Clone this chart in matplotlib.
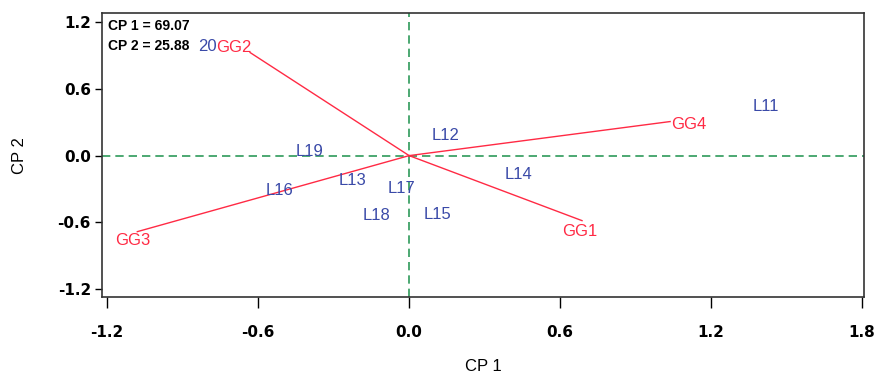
import numpy as np
import matplotlib
matplotlib.use('Agg')
import matplotlib.pyplot as plt

# vectores de los grupos (extremos de las lineas)
grupos = ['GG1', 'GG2', 'GG3', 'GG4']
grupo_x = [0.687, -0.632, -1.08, 1.037]
grupo_y = [-0.584, 0.926, -0.683, 0.306]
# posicion de las etiquetas de los grupos
grupo_lab_x = [0.679, -0.697, -1.097, 1.11]
grupo_lab_y = [-0.683, 0.971, -0.764, 0.279]

# lineas (puntos azules)
lineas = ['20', 'L11', 'L12', 'L13', 'L14', 'L15', 'L16', 'L17', 'L18', 'L19']
linea_x = [-0.80, 1.418, 0.143, -0.226, 0.433, 0.111, -0.516, -0.032, -0.131, -0.397]
linea_y = [0.98, 0.44, 0.18, -0.225, -0.171, -0.53, -0.315, -0.297, -0.539, 0.036]

xticks = [-1.2, -0.6, 0.0, 0.6, 1.2, 1.8]
yticks = [-1.2, -0.6, 0.0, 0.6, 1.2]
varianza = ['CP 1 = 69.07', 'CP 2 = 25.88']

rojo = '#ff2a44'
azul = '#3a4aa8'
verde = '#2e9a5a'
fuente = 'Liberation Sans'

fig = plt.figure(figsize=(8.8, 3.75), dpi=100)
ax = fig.add_axes([0.116, 0.208, 0.866, 0.757])

ax.axhline(0, color=verde, lw=1.2, ls=(0, (5, 3)))
ax.axvline(0, color=verde, lw=1.2, ls=(0, (5, 3)))

for g, x, y, lx, ly in zip(grupos, grupo_x, grupo_y, grupo_lab_x, grupo_lab_y):
    ax.plot([0, x], [0, y], color=rojo, lw=1)
    ax.text(lx, ly, g, color=rojo, fontsize=12, family=fuente,
            ha='center', va='center')

for l, x, y in zip(lineas, linea_x, linea_y):
    ax.text(x, y, l, color=azul, fontsize=12, family=fuente,
            ha='center', va='center')

ax.text(0.008, 0.955, varianza[0], transform=ax.transAxes, fontsize=10,
        family=fuente, fontweight='bold', va='center', ha='left')
ax.text(0.008, 0.885, varianza[1], transform=ax.transAxes, fontsize=10,
        family=fuente, fontweight='bold', va='center', ha='left')

ax.set_xlim(-1.22, 1.808)
ax.set_ylim(-1.27, 1.28)
ax.set_xticks(xticks)
ax.set_yticks(yticks)
ax.set_xticklabels(['%.1f' % v for v in xticks], fontweight='bold', fontsize=11)
ax.set_yticklabels(['%.1f' % v for v in yticks], fontweight='bold', fontsize=11)
ax.tick_params(axis='x', length=8, width=1, pad=12)
ax.tick_params(axis='y', length=5, width=1, pad=3)
for s in ax.spines.values():
    s.set_linewidth(1.2)
    s.set_color('#333333')

ax.set_xlabel('CP 1', fontsize=12, family=fuente, labelpad=14)
ax.set_ylabel('CP 2', fontsize=12, family=fuente, labelpad=22)

fig.savefig('out.png', dpi=100)
